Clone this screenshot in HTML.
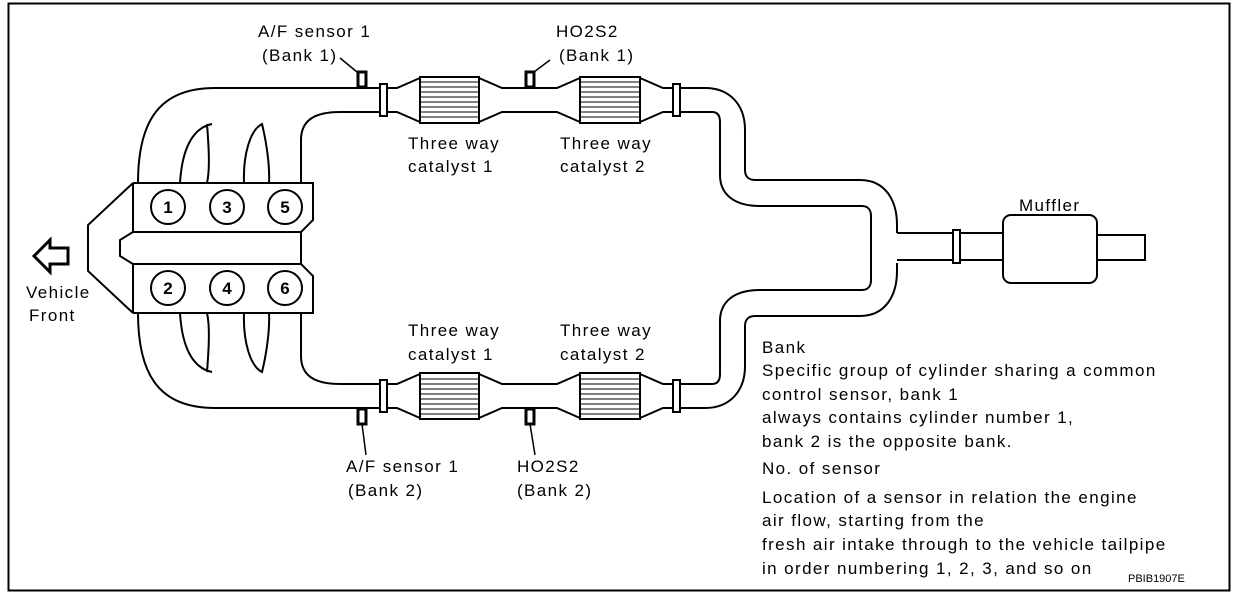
<!DOCTYPE html>
<html><head><meta charset="utf-8"><style>
html,body{margin:0;padding:0;background:#fff;}
svg{display:block;}
text{font-family:"Liberation Sans",sans-serif;font-size:17px;fill:#000;letter-spacing:1.4px;}
</style></head><body>
<svg width="1248" height="600" viewBox="0 0 1248 600" xmlns="http://www.w3.org/2000/svg">
<rect x="8.5" y="3.5" width="1221" height="587" fill="none" stroke="#000" stroke-width="2"/>
<defs>
<g id="half" fill="none" stroke="#000" stroke-width="2">
  <path d="M138,183 C138,120 160,88 215,88 L380,88"/>
  <path d="M301,183 L301,140 C301,120 315,112 340,112 L380,112"/>
  <rect x="380" y="84" width="7" height="32" fill="#fff"/>
  <path d="M387,88 L397,88 L420,78 M387,112 L397,112 L420,122"/>
  <rect x="420" y="77" width="59" height="46"/>
  <path d="M420,82H479M420,87H479M420,92H479M420,97H479M420,102H479M420,107H479M420,112H479M420,117H479" stroke-width="1"/>
  <path d="M479,78 L502,88 L557,88 L580,78 M479,122 L502,112 L557,112 L580,122"/>
  <rect x="580" y="77" width="60" height="46"/>
  <path d="M580,82H640M580,87H640M580,92H640M580,97H640M580,102H640M580,107H640M580,112H640M580,117H640" stroke-width="1"/>
  <path d="M640,78 L663,88 L673,88 M640,122 L663,112 L673,112"/>
  <rect x="673" y="84" width="7" height="32" fill="#fff"/>
  <path d="M680,88 L705,88 C730,88 745,105 745,130 L745,170 C745,176 748,180 755,180 L860,180 C885,180 897,200 897,225 L897,233"/>
  <path d="M680,112 L712,112 C718,112 720,116 720,122 L720,175 C720,195 735,206 760,206 L862,206 C868,206 871,210 871,216 L871,248"/>
  <path d="M180,183 C182,150 192,128 212,124 M207,124 C209,150 210,170 207,183"/>
  <path d="M244,183 C243,155 250,130 262,124 C266,140 270,165 269,183"/>
  <path d="M133,183 L313,183 L313,220 L301,232 L301,248" fill="none"/>
  <path d="M133,183 L88,225 L88,248"/>
  <path d="M133,183 L133,232 L120,240 L120,248"/>
  <path d="M133,232 L301,232"/>
</g>
</defs>
<use href="#half"/>
<use href="#half" transform="translate(0,496) scale(1,-1)"/>
<g fill="none" stroke="#000" stroke-width="2">
<circle cx="168" cy="207" r="17"/><circle cx="227" cy="207" r="17"/><circle cx="285" cy="207" r="17"/>
<circle cx="168" cy="288" r="17"/><circle cx="227" cy="288" r="17"/><circle cx="285" cy="288" r="17"/>
<path d="M897,233 L953,233 M897,260 L953,260"/>
<rect x="953" y="230" width="7" height="33" fill="#fff"/>
<path d="M960,233 L1003,233 M960,260 L1003,260"/>
<rect x="1003" y="215" width="94" height="68" rx="8"/>
<path d="M1097,235 L1145,235 L1145,260 L1097,260"/>
<rect x="358" y="72" width="8" height="15" stroke-width="3" fill="#fff"/>
<rect x="526" y="72" width="8" height="15" stroke-width="3" fill="#fff"/>
<rect x="358" y="409" width="8" height="15" stroke-width="3" fill="#fff"/>
<rect x="526" y="409" width="8" height="15" stroke-width="3" fill="#fff"/>
<path d="M340,58 L357,72 M550,60 L534,72 M362,424 L366,455 M530,424 L535,455" stroke-width="1.5"/>
<path d="M34,256 L50,240 L50,248 L68,248 L68,264 L50,264 L50,272 Z" stroke-width="3"/>
</g>
<g font-weight="bold" text-anchor="middle" style="letter-spacing:0">
<text x="168" y="213" style="letter-spacing:0">1</text><text x="227" y="213" style="letter-spacing:0">3</text><text x="285" y="213" style="letter-spacing:0">5</text>
<text x="168" y="294" style="letter-spacing:0">2</text><text x="227" y="294" style="letter-spacing:0">4</text><text x="285" y="294" style="letter-spacing:0">6</text>
</g>
<text x="258" y="37">A/F sensor 1</text>
<text x="262" y="61">(Bank 1)</text>
<text x="556" y="37">HO2S2</text>
<text x="559" y="61">(Bank 1)</text>
<text x="408" y="149">Three way</text>
<text x="408" y="172">catalyst 1</text>
<text x="560" y="149">Three way</text>
<text x="560" y="172">catalyst 2</text>
<text x="408" y="336">Three way</text>
<text x="408" y="360">catalyst 1</text>
<text x="560" y="336">Three way</text>
<text x="560" y="360">catalyst 2</text>
<text x="346" y="472">A/F sensor 1</text>
<text x="348" y="496">(Bank 2)</text>
<text x="517" y="472">HO2S2</text>
<text x="517" y="496">(Bank 2)</text>
<text x="1019" y="211">Muffler</text>
<text x="26" y="298">Vehicle</text>
<text x="29" y="321">Front</text>
<text x="762" y="353">Bank</text>
<text x="762" y="376">Specific group of cylinder sharing a common</text>
<text x="762" y="400">control sensor, bank 1</text>
<text x="762" y="423">always contains cylinder number 1,</text>
<text x="762" y="447">bank 2 is the opposite bank.</text>
<text x="762" y="474">No. of sensor</text>
<text x="762" y="503">Location of a sensor in relation the engine</text>
<text x="762" y="526">air flow, starting from the</text>
<text x="762" y="550">fresh air intake through to the vehicle tailpipe</text>
<text x="762" y="574">in order numbering 1, 2, 3, and so on</text>
<text x="1128" y="582" style="font-size:11px;letter-spacing:0">PBIB1907E</text>
</svg>
</body></html>
